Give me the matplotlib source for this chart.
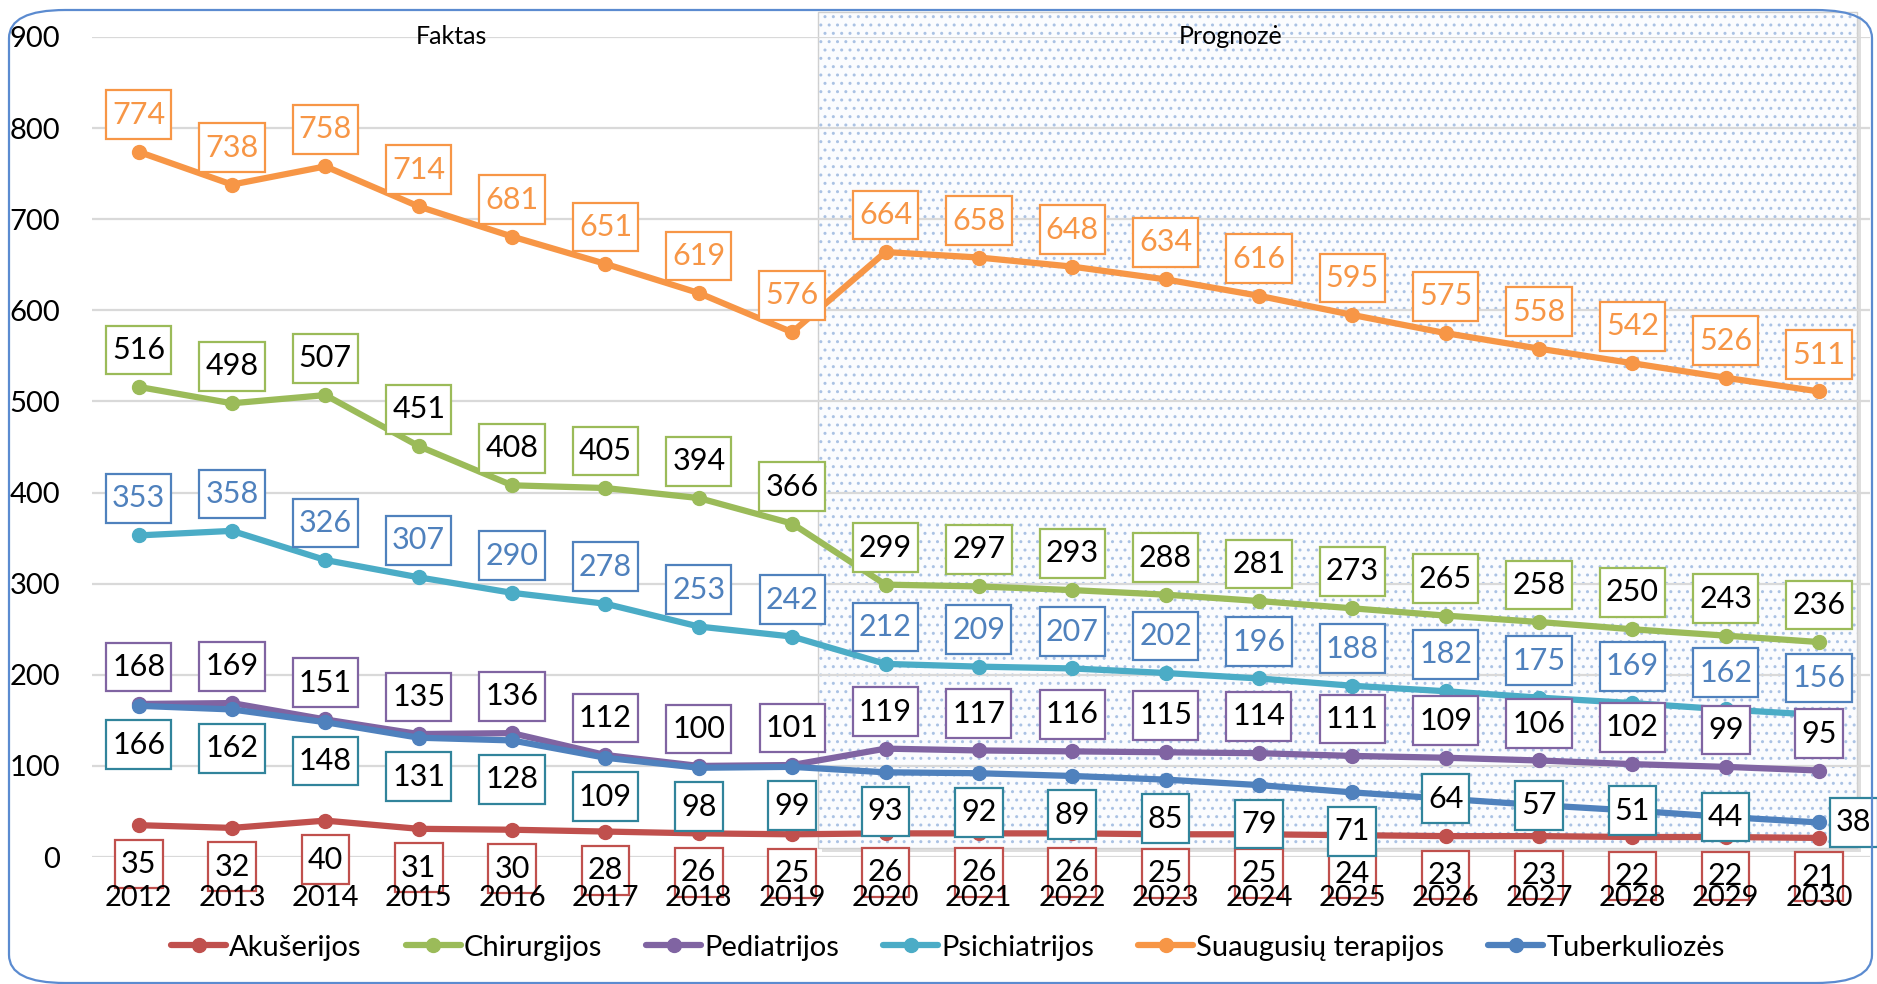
import matplotlib.pyplot as plt
import matplotlib.transforms as mtransforms
from matplotlib.patches import Rectangle, FancyBboxPatch

plt.rcParams['font.family'] = ['Lato', 'DejaVu Sans']

years = list(range(2012, 2031))
akuserijos = [35, 32, 40, 31, 30, 28, 26, 25, 26, 26, 26, 25, 25, 24, 23, 23, 22, 22, 21]
chirurgijos = [516, 498, 507, 451, 408, 405, 394, 366, 299, 297, 293, 288, 281, 273, 265, 258, 250, 243, 236]
pediatrijos = [168, 169, 151, 135, 136, 112, 100, 101, 119, 117, 116, 115, 114, 111, 109, 106, 102, 99, 95]
psichiatrijos = [353, 358, 326, 307, 290, 278, 253, 242, 212, 209, 207, 202, 196, 188, 182, 175, 169, 162, 156]
suaugusiu = [774, 738, 758, 714, 681, 651, 619, 576, 664, 658, 648, 634, 616, 595, 575, 558, 542, 526, 511]
tuberkuliozes = [166, 162, 148, 131, 128, 109, 98, 99, 93, 92, 89, 85, 79, 71, 64, 57, 51, 44, 38]

fakt_end = 2019  # last year of facts, forecast starts after

# name, values, line colour, label text colour, label box colour, label position
series = [
    ('Akušerijos', akuserijos, '#c0504d', 'black', '#c0504d', 'below'),
    ('Chirurgijos', chirurgijos, '#9bbb59', 'black', '#9bbb59', 'above'),
    ('Pediatrijos', pediatrijos, '#8064a2', 'black', '#8064a2', 'above'),
    ('Psichiatrijos', psichiatrijos, '#4bacc6', '#4f81bd', '#4f81bd', 'above'),
    ('Suaugusių terapijos', suaugusiu, '#f79646', '#f79646', '#f79646', 'above'),
    ('Tuberkuliozės', tuberkuliozes, '#4f81bd', 'black', '#31849b', 'below'),
]

fig = plt.figure(figsize=(18.77, 9.84), dpi=100)
ax = fig.add_axes([0.049, 0.129, 0.9475, 0.8334])

# forecast shaded area with a small shadow
shadow_tr = mtransforms.offset_copy(ax.transData, fig=fig, x=4, y=-4, units='dots')
x0, x1 = fakt_end + 0.28, years[-1] + 0.41
ax.add_patch(Rectangle((x0, 10), x1 - x0, 917, transform=shadow_tr, fc='#c8c8c8',
                       ec='none', alpha=0.6, clip_on=False, zorder=0.2))
ax.add_patch(Rectangle((x0, 10), x1 - x0, 917, fc='#fbfcfe', ec='#d0d0d0', lw=1,
                       clip_on=False, zorder=0.3))
ax.add_patch(Rectangle((x0, 10), x1 - x0, 917, fc='none', ec='#aac2e4', lw=0,
                       hatch='..', clip_on=False, zorder=0.4))

ax.text(2015.35, 900, 'Faktas', ha='center', va='center', fontsize=18, zorder=1)
ax.text(2023.7, 900, 'Prognozė', ha='center', va='center', fontsize=18, zorder=1)

for name, vals, lc, tc, bc, pos in series:
    ax.plot(years, vals, color=lc, lw=4.5, marker='o', ms=10, label=name, zorder=2,
            solid_capstyle='round')
    for yr, v in zip(years, vals):
        p = pos
        if name == 'Tuberkuliozės':
            if yr == years[-1]:
                p = 'right'
            elif yr >= 2026:
                p = 'center'
        dx, dy = {'above': (0, 26.6), 'below': (0, -28), 'center': (0, 0), 'right': (25, 0)}[p]
        ax.annotate(str(v), (yr, v), xytext=(dx, dy), textcoords='offset points',
                    ha='center', va='center', fontsize=22, color=tc,
                    bbox=dict(boxstyle='square,pad=0.2', fc='white', ec=bc, lw=1.6,
                              mutation_aspect=1.7),
                    zorder=5, annotation_clip=False)

ax.set_xlim(2011.5, 2030.55)
ax.set_ylim(0, 900)
ax.set_xticks(years)
ax.set_yticks(range(0, 901, 100))
ax.tick_params(axis='x', length=0, pad=20, labelsize=21)
ax.tick_params(axis='y', length=0, pad=23, labelsize=21)
ax.yaxis.grid(True, color='#d9d9d9', lw=1.6)
ax.set_axisbelow(True)
ax.xaxis.set_zorder(10)
for s in ax.spines.values():
    s.set_visible(False)
ax.patch.set_alpha(0)

ax.legend(loc='center', bbox_to_anchor=(0.505, 0.037), bbox_transform=fig.transFigure,
          ncol=6, frameon=False, fontsize=21, handlelength=1.9, handletextpad=0.1,
          columnspacing=1.5)

fig.patches.append(FancyBboxPatch((9 / 1877, 1 / 984), 1863 / 1877, 973 / 984,
                                  boxstyle='round,pad=0,rounding_size=0.03',
                                  transform=fig.transFigure, fc='none', ec='#5b8bd0',
                                  lw=1.6, mutation_aspect=1877 / 984 * 0.5, zorder=20))

fig.savefig('out.png', dpi=100)
